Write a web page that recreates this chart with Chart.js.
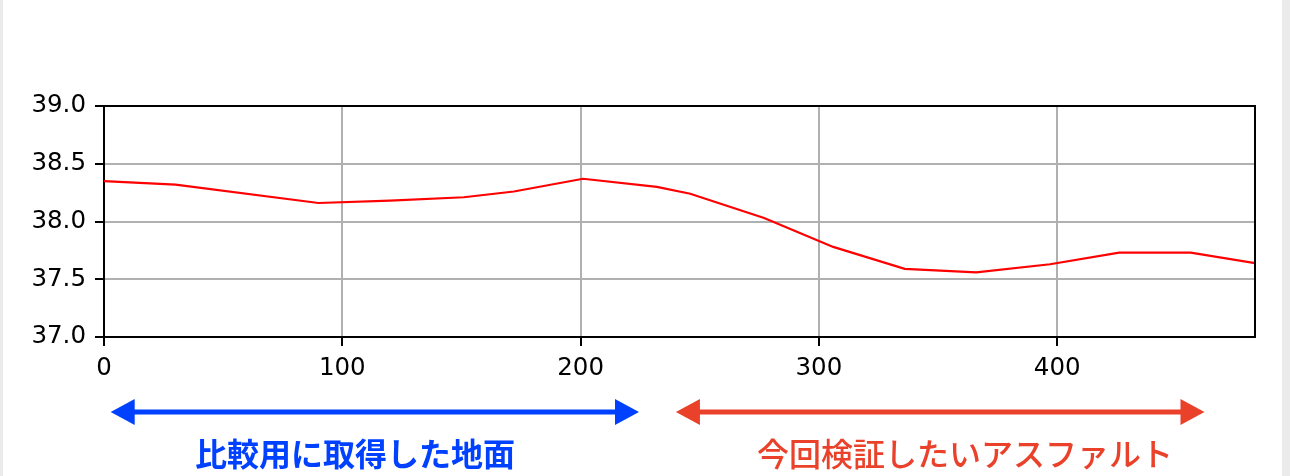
<!DOCTYPE html>
<html lang="ja">
<head>
<meta charset="utf-8">
<title>路面温度</title>
<script src="https://cdn.jsdelivr.net/npm/chart.js@4.4.1/dist/chart.umd.min.js"></script>
<style>
    html, body { margin: 0; padding: 0; background: #fff; }
    #wrap { position: relative; width: 1290px; height: 476px; overflow: hidden; }
    #chart { position: absolute; left: 0; top: 0; }
    .edge { position: absolute; top: 0; height: 476px; background: #ebebeb; }
    .note {
        position: absolute; width: 600px; text-align: center;
        font-family: "Noto Sans CJK JP", sans-serif; font-size: 32px; line-height: 32px;
        white-space: nowrap;
    }
</style>
</head>
<body>
<div id="wrap">
    <canvas id="chart" width="1290" height="476"></canvas>
    <div class="edge" style="left:0;width:3px"></div>
    <div class="edge" style="left:1282px;width:8px"></div>
    <div class="note" style="left:55px;top:436px;color:#0041ff;font-weight:700">比較用に取得した地面</div>
    <div class="note" style="left:665px;top:436px;color:#e9412a;font-weight:500">今回検証したいアスファルト</div>
</div>
<script>
// 測定データ (距離 / 温度)
const distance = [0, 30, 90, 120, 151, 172, 201, 232, 246, 277, 306, 336, 366, 397, 426, 456, 483];
const temperature = [38.35, 38.32, 38.16, 38.18, 38.21, 38.26, 38.37, 38.30, 38.24, 38.03, 37.78, 37.59, 37.56, 37.63, 37.73, 37.73, 37.64];
const xTicks = [0, 100, 200, 300, 400];
const yTicks = [37.0, 37.5, 38.0, 38.5, 39.0];

// 矢印の範囲 (距離)
const groundSpan = [2.8, 224.5];
const asphaltSpan = [240, 461.8];

const tickFont = { family: 'DejaVu Sans', size: 24.5 };

// 上と右の枠線
const framePlugin = {
    id: 'frame',
    afterDatasetsDraw(chart) {
        const { ctx, chartArea: a } = chart;
        ctx.save();
        ctx.strokeStyle = '#000';
        ctx.lineWidth = 2;
        ctx.beginPath();
        ctx.moveTo(a.left, a.top);
        ctx.lineTo(a.right, a.top);
        ctx.lineTo(a.right, a.bottom);
        ctx.stroke();
        ctx.restore();
    }
};

function drawArrow(ctx, x1, x2, y, color) {
    const head = 24, half = 13;
    ctx.save();
    ctx.strokeStyle = color;
    ctx.fillStyle = color;
    ctx.lineWidth = 5;
    ctx.beginPath();
    ctx.moveTo(x1 + head - 2, y);
    ctx.lineTo(x2 - head + 2, y);
    ctx.stroke();
    ctx.beginPath();
    ctx.moveTo(x1, y);
    ctx.lineTo(x1 + head, y - half);
    ctx.lineTo(x1 + head, y + half);
    ctx.closePath();
    ctx.fill();
    ctx.beginPath();
    ctx.moveTo(x2, y);
    ctx.lineTo(x2 - head, y - half);
    ctx.lineTo(x2 - head, y + half);
    ctx.closePath();
    ctx.fill();
    ctx.restore();
}

// 範囲を示す矢印
const arrowPlugin = {
    id: 'arrows',
    afterDraw(chart) {
        const x = chart.scales.x;
        const y = chart.chartArea.bottom + 75;
        drawArrow(chart.ctx, x.getPixelForValue(groundSpan[0]), x.getPixelForValue(groundSpan[1]), y, '#0041ff');
        drawArrow(chart.ctx, x.getPixelForValue(asphaltSpan[0]), x.getPixelForValue(asphaltSpan[1]), y, '#e9412a');
    }
};

new Chart(document.getElementById('chart').getContext('2d'), {
    type: 'line',
    data: {
        datasets: [{
            data: distance.map((d, i) => ({ x: d, y: temperature[i] })),
            borderColor: '#ff0000',
            borderWidth: 2.2,
            pointRadius: 0,
            tension: 0,
            fill: false
        }]
    },
    options: {
        responsive: false,
        animation: false,
        layout: { padding: { left: 0, top: 106, right: 35, bottom: 0 } },
        plugins: {
            legend: { display: false },
            tooltip: { enabled: false }
        },
        scales: {
            x: {
                type: 'linear',
                min: distance[0],
                max: distance[distance.length - 1],
                afterBuildTicks: s => { s.ticks = xTicks.map(v => ({ value: v })); },
                afterFit: s => { s.height = 139; },
                ticks: { font: tickFont, color: '#000', padding: 8, maxRotation: 0 },
                grid: { color: '#b0b0b0', lineWidth: 2, tickColor: '#000', tickLength: 9, tickWidth: 2 },
                border: { color: '#000', width: 2 }
            },
            y: {
                min: yTicks[0],
                max: yTicks[yTicks.length - 1],
                afterBuildTicks: s => { s.ticks = yTicks.map(v => ({ value: v })); },
                afterFit: s => { s.width = 104; },
                ticks: { font: tickFont, color: '#000', padding: 9, callback: v => v.toFixed(1) },
                grid: { color: '#b0b0b0', lineWidth: 2, tickColor: '#000', tickLength: 9, tickWidth: 2 },
                border: { color: '#000', width: 2 }
            }
        }
    },
    plugins: [framePlugin, arrowPlugin]
});
</script>
</body>
</html>
